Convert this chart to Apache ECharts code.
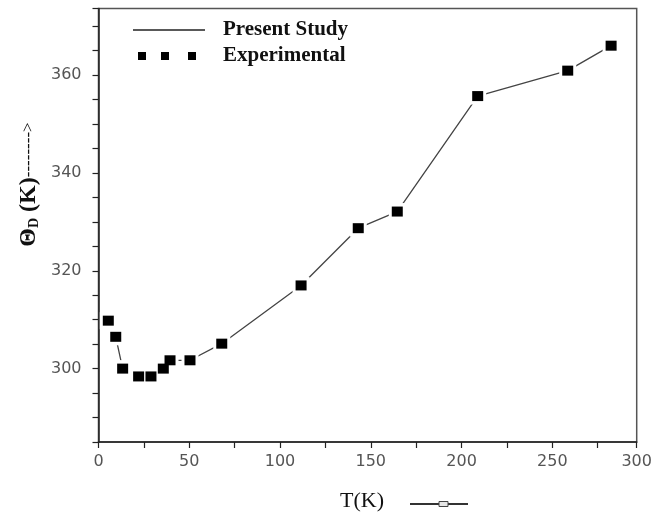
<!DOCTYPE html>
<html>
<head>
<meta charset="utf-8">
<script src="https://cdn.jsdelivr.net/npm/echarts@6.0.0/dist/echarts.min.js"></script>
<style>
html,body{margin:0;padding:0;background:#fff;}
#chart{width:658px;height:516px;}
</style>
</head>
<body>
<div id="chart"></div>
<script>
// Temperature T (K)
var temps = [5.4, 9.5, 13.3, 22.1, 28.9, 35.7, 39.4, 50.4, 67.9, 111.6, 143.1, 164.6, 208.9, 258.5, 282.4];
// Debye temperature Theta_D (K)
var theta = [309.8, 306.5, 300.0, 298.4, 298.4, 300.0, 301.7, 301.7, 305.1, 317.0, 328.7, 332.1, 355.7, 360.9, 366.0];
var xTickLabels = [0, 50, 100, 150, 200, 250, 300];
var yTickLabels = [300, 320, 340, 360];
var seriesNames = ['Present Study', 'Experimental'];

var pts = temps.map(function (t, i) { return [t, theta[i]]; });
var xMax = 296.5;

var chart = echarts.init(document.getElementById('chart'), null, {renderer: 'canvas'});
var legendText = {
  fontFamily: '"Liberation Serif", serif', fontWeight: 'bold', fontSize: 21,
  color: '#111', lineHeight: 22
};
chart.setOption({
  animation: false,
  backgroundColor: '#fff',
  grid: {
    left: 98.5, right: 21.3, top: 8.5, bottom: 74,
    show: true, borderColor: '#555', borderWidth: 1.5, backgroundColor: 'transparent'
  },
  legend: [{
    data: [{name: seriesNames[0], icon: 'path://M0,0H72V1.5H0Z'}], left: 133, top: 19, padding: 0,
    itemWidth: 72, itemHeight: 1.5,
    itemStyle: {color: '#222', borderWidth: 0},
    textStyle: Object.assign({padding: [0, 0, 0, 13]}, legendText),
    selectedMode: false
  }, {
    data: [seriesNames[1]], left: 138, top: 45, padding: 0,
    itemWidth: 58, itemHeight: 8,
    icon: 'path://M0,0h8v8h-8z M23,0h8v8h-8z M50,0h8v8h-8z',
    itemStyle: {color: '#000', borderWidth: 0, opacity: 1},
    textStyle: Object.assign({padding: [0, 0, 0, 22]}, legendText),
    selectedMode: false
  }],
  xAxis: {
    type: 'value', min: 0, max: xMax, interval: 25,
    axisLine: {show: true, onZero: false, lineStyle: {color: '#222', width: 1.5}},
    axisTick: {show: true, length: 6, lineStyle: {color: '#222', width: 1.2}},
    splitLine: {show: false},
    axisLabel: {
      margin: 12, color: '#555', fontFamily: '"DejaVu Sans", sans-serif', fontSize: 16,
      showMaxLabel: true, showMinLabel: true,
      formatter: function (v) {
        if (xTickLabels.indexOf(v) >= 0) return String(v);
        if (v === xMax) return String(xTickLabels[xTickLabels.length - 1]);
        return '';
      }
    }
  },
  yAxis: {
    type: 'value', min: 285, max: 373.6, interval: 5,
    axisLine: {show: true, onZero: false, lineStyle: {color: '#222', width: 1.5}},
    axisTick: {show: true, length: 6, lineStyle: {color: '#222', width: 1.2}},
    splitLine: {show: false},
    axisLabel: {
      margin: 17, color: '#555', fontFamily: '"DejaVu Sans", sans-serif', fontSize: 16,
      formatter: function (v) { return yTickLabels.indexOf(v) >= 0 ? String(v) : ''; }
    }
  },
  series: [{
    name: seriesNames[0], type: 'line', data: pts, symbol: 'none', z: 1,
    itemStyle: {color: '#222'},
    lineStyle: {color: '#444', width: 1.3}, silent: true
  }, {
    name: 'gap', type: 'scatter', data: pts, symbol: 'rect', symbolSize: 17, z: 2,
    itemStyle: {color: '#fff', opacity: 1}, silent: true
  }, {
    name: seriesNames[1], type: 'scatter', data: pts, symbol: 'rect', symbolSize: [11, 10], z: 3,
    itemStyle: {color: '#000', opacity: 1}
  }],
  graphic: [{
    type: 'text', x: 29, y: 184.5, rotation: Math.PI / 2,
    style: {
      text: '{a|Θ}{s|D}{a| (K)}{b|-------->}',
      align: 'center', verticalAlign: 'middle',
      rich: {
        a: {fontFamily: '"Liberation Serif", serif', fontWeight: 'bold', fontSize: 24, fill: '#111', color: '#111'},
        s: {fontFamily: '"Liberation Serif", serif', fontWeight: 'bold', fontSize: 14, fill: '#111', color: '#111', verticalAlign: 'bottom'},
        b: {fontFamily: '"Liberation Serif", serif', fontWeight: 'normal', fontSize: 17, fill: '#111', color: '#111'}
      }
    }
  }, {
    type: 'text', x: 362, y: 501,
    style: {text: 'T(K)', font: '22px "Liberation Serif", serif', fill: '#111', align: 'center', verticalAlign: 'middle'}
  }, {
    type: 'line', shape: {x1: 410, y1: 504, x2: 468, y2: 504}, style: {stroke: '#333', lineWidth: 2}
  }, {
    type: 'rect', shape: {x: 439, y: 501.5, width: 9, height: 5}, style: {fill: '#e6e6e6', stroke: '#444', lineWidth: 1}
  }]
});
</script>
</body>
</html>
